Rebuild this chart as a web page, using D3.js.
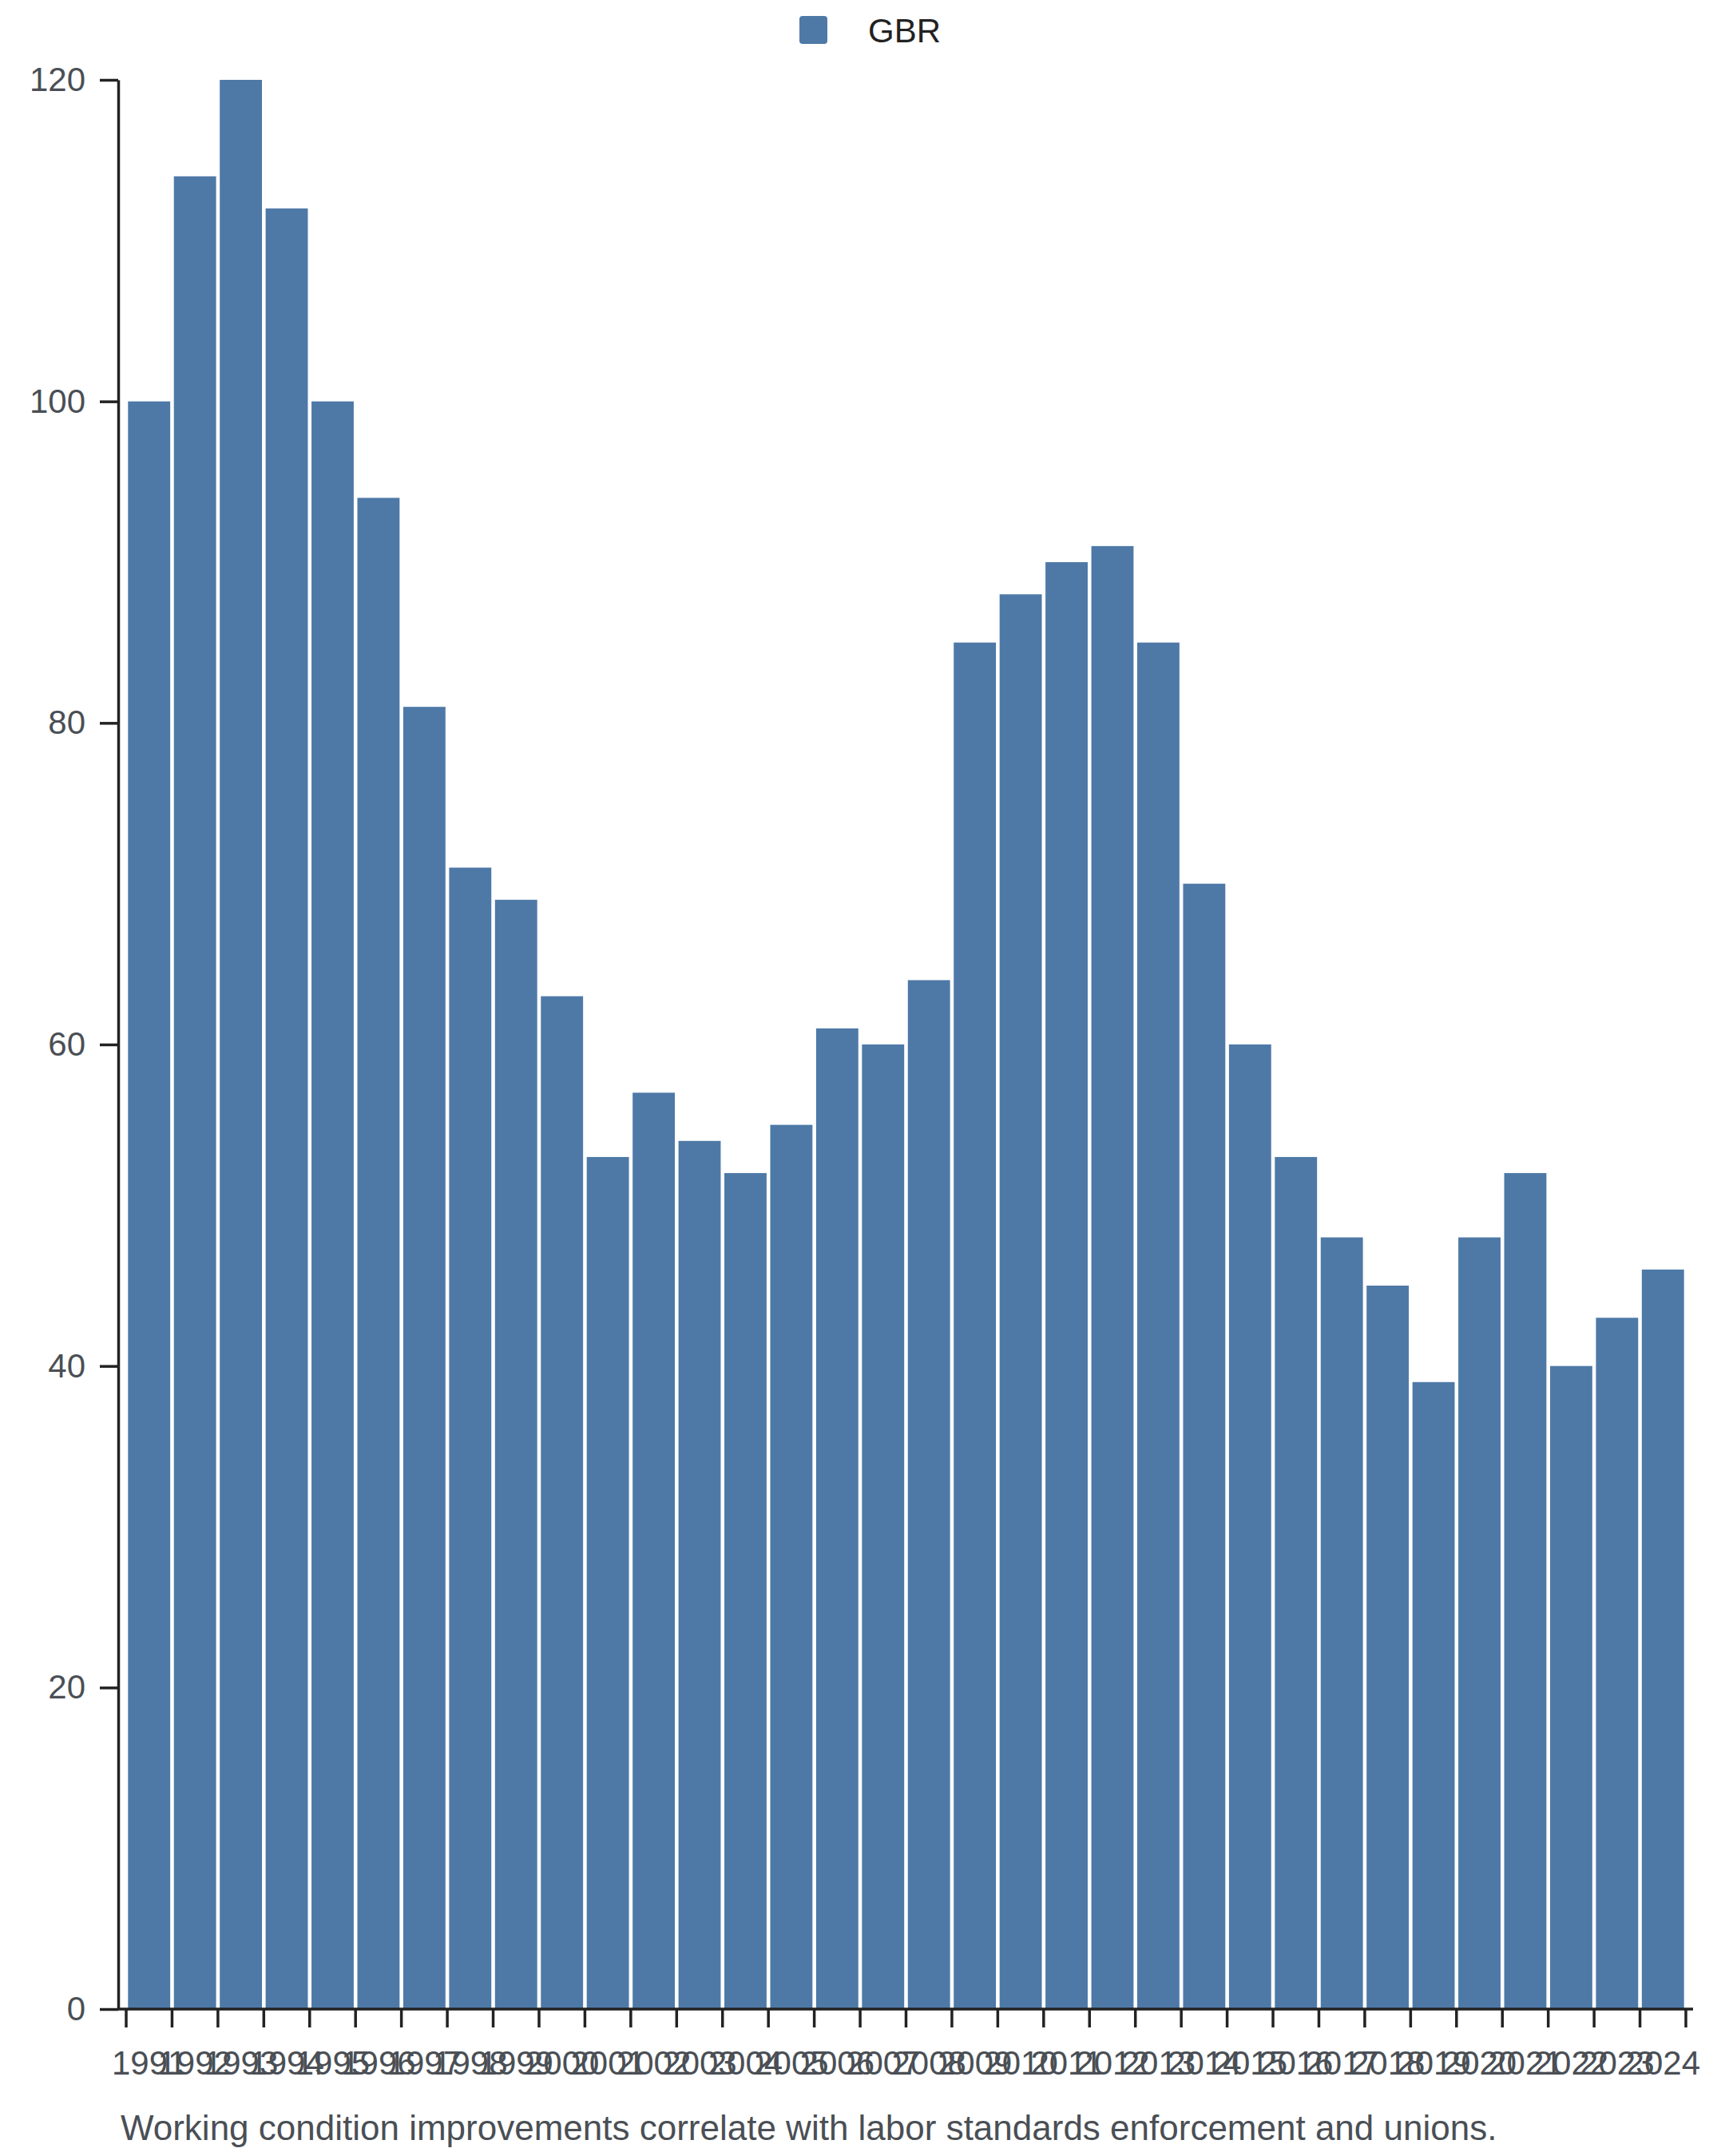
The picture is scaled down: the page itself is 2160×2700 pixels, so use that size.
<!DOCTYPE html>
<html>
<head>
<meta charset="utf-8">
<script src="https://cdn.jsdelivr.net/npm/d3@7"></script>
<style>
  body { margin: 0; background: #fff; }
  text { font-family: "Liberation Sans", Arial, sans-serif; }
</style>
</head>
<body>
<svg width="2160" height="2700"></svg>
<script>
const YEARS = ["1991","1992","1993","1994","1995","1996","1997","1998","1999","2000",
  "2001","2002","2003","2004","2005","2006","2007","2008","2009","2010",
  "2011","2012","2013","2014","2015","2016","2017","2018","2019","2020",
  "2021","2022","2023","2024"];
const GBR = [100,114,120,112,100,94,81,71,69,63,
  53,57,54,52,55,61,60,64,85,88,
  90,91,85,70,60,53,48,45,39,48,
  52,40,43,46];
const Y_TICKS = [0,20,40,60,80,100,120];
const SERIES = "GBR";
const CAPTION = "Working condition improvements correlate with labor standards enforcement and unions.";

const svg = d3.select('svg');
const LEFT = 148, TOP = 100, BOTTOM = 2516;

// ticks sit between bars, so range runs from first tick to last tick
const x = d3.scaleBand().domain(YEARS).range([158, 2111]).paddingInner(0.08).paddingOuter(0.04);
const y = d3.scaleLinear().domain([0, 120]).range([BOTTOM, TOP]);

// bars
svg.append('g').selectAll('rect')
  .data(YEARS)
  .enter()
  .append('rect')
  .attr('x', (d) => x(d))
  .attr('y', (d, i) => y(GBR[i]))
  .attr('width', x.bandwidth())
  .attr('height', (d, i) => BOTTOM - y(GBR[i]))
  .attr('fill', '#4e79a7');

// y axis
const yAxis = svg.append('g')
  .attr('transform', `translate(${LEFT},0)`)
  .call(d3.axisLeft(y).tickValues(Y_TICKS).tickSize(23).tickSizeOuter(0).tickPadding(18));
yAxis.select('.domain').attr('stroke', '#222').attr('stroke-width', 3.5);
yAxis.selectAll('.tick line').attr('stroke', '#222').attr('stroke-width', 3.5);
yAxis.selectAll('.tick text').attr('font-size', 42).attr('fill', '#4a4f55')
  .attr('font-family', '"Liberation Sans", Arial, sans-serif');

// x axis: labels at band centers, ticks at band edges
const xAxis = svg.append('g')
  .attr('transform', `translate(0,${BOTTOM})`)
  .call(d3.axisBottom(x).tickSize(0).tickPadding(52));
xAxis.select('.domain').remove();
xAxis.selectAll('.tick text').attr('font-size', 42).attr('fill', '#4a4f55')
  .attr('font-family', '"Liberation Sans", Arial, sans-serif');

const half = x.step() * x.paddingInner() / 2;
const edges = YEARS.map((d) => x(d) - half)
  .concat([x(YEARS[YEARS.length - 1]) + x.bandwidth() + half]);
svg.append('g').selectAll('line')
  .data(edges)
  .enter()
  .append('line')
  .attr('x1', (d) => d).attr('x2', (d) => d)
  .attr('y1', BOTTOM).attr('y2', BOTTOM + 23)
  .attr('stroke', '#222').attr('stroke-width', 3.5);

svg.append('line')
  .attr('x1', LEFT).attr('x2', edges[edges.length - 1] + 9)
  .attr('y1', BOTTOM).attr('y2', BOTTOM)
  .attr('stroke', '#222').attr('stroke-width', 3.5);

// legend
const legend = svg.append('g').attr('transform', 'translate(1001,20)');
legend.append('rect').attr('width', 35).attr('height', 35).attr('rx', 4).attr('fill', '#4e79a7');
legend.append('text').attr('x', 86).attr('y', 33).text(SERIES)
  .attr('font-size', 42).attr('fill', '#222');

// caption
svg.append('text').attr('x', 151).attr('y', 2680).text(CAPTION)
  .attr('font-size', 44).attr('fill', '#4a4f55');
</script>
</body>
</html>
